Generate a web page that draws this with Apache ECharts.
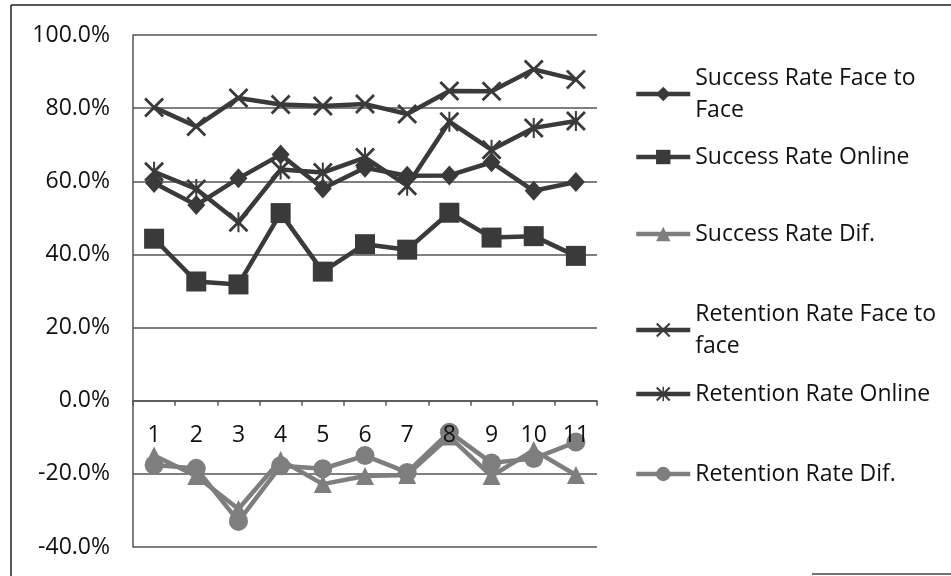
<!DOCTYPE html>
<html>
<head>
<meta charset="utf-8">
<script src="https://cdn.jsdelivr.net/npm/echarts@6/dist/echarts.min.js"></script>
<style>
html,body{margin:0;padding:0;background:#fff;}
#chart{width:951px;height:576px;}
</style>
</head>
<body>
<div id="chart"></div>
<script>
var categories = ['1','2','3','4','5','6','7','8','9','10','11'];
var yTicks = { min: -40, max: 100, interval: 20 };

var successF2F    = [59.5, 53.5, 60.8, 67.3, 58.0, 63.7, 61.5, 61.6, 65.2, 57.4, 59.8];
var successOnline = [44.3, 32.6, 31.8, 51.3, 35.3, 42.8, 41.3, 51.4, 44.6, 45.0, 39.6];
var successDif    = [-15.0, -20.6, -29.6, -16.2, -22.8, -20.6, -20.3, -9.8, -20.6, -13.5, -20.3];
var retentionF2F    = [80.2, 75.0, 82.8, 81.0, 80.6, 81.1, 78.4, 84.7, 84.6, 90.6, 87.8];
var retentionOnline = [62.6, 57.9, 48.8, 63.2, 62.4, 66.5, 58.8, 76.3, 68.6, 74.6, 76.5];
var retentionDif    = [-17.6, -18.5, -33.0, -17.8, -18.6, -15.0, -19.6, -8.6, -17.0, -15.8, -11.3];

var seriesNames = ['Success Rate Face to Face', 'Success Rate Online', 'Success Rate Dif.',
                   'Retention Rate Face to face', 'Retention Rate Online', 'Retention Rate Dif.'];

var X_PATH = 'path://M0,2 L2,0 L10,8 L18,0 L20,2 L12,10 L20,18 L18,20 L10,12 L2,20 L0,18 L8,10 Z';
var STAR_PATH = 'path://M0,2 L2,0 L10,8 L18,0 L20,2 L12,10 L20,18 L18,20 L10,12 L2,20 L0,18 L8,10 Z M9,0 L11,0 L11,20 L9,20 Z';

var FONT = '"Open Sans", "Noto Sans", sans-serif';
var DARK = '#3a3a3a';
var GREY = '#7e7e7e';
var seriesColors = [DARK, DARK, GREY, DARK, DARK, GREY];

function mkSeries(name, data, symbol, size, color) {
  return {
    name: name, type: 'line', data: data,
    symbol: symbol, symbolSize: size,
    lineStyle: { color: color, width: 4.5 },
    itemStyle: { color: color },
    emphasis: { disabled: true },
    animation: false
  };
}

var legendTops = [41, 136, 213, 277, 373, 453];
var twoLine = [true, false, false, true, false, false];
var legends = seriesNames.map(function (n, i) {
  return {
    data: [n], orient: 'vertical', left: 629, top: legendTops[i],
    itemWidth: 54, itemHeight: 18, itemGap: 0,
    selectedMode: false,
    lineStyle: { width: 4.5, color: seriesColors[i] },
    itemStyle: { color: seriesColors[i] },
    textStyle: {
      fontFamily: FONT, fontSize: 23, color: '#111',
      lineHeight: 32, width: 255, overflow: 'break',
      padding: twoLine[i] ? [32, 0, 0, 0] : 0
    }
  };
});

var chart = echarts.init(document.getElementById('chart'));
chart.setOption({
  backgroundColor: '#ffffff',
  animation: false,
  grid: { left: 133, right: 354, top: 35, bottom: 29, containLabel: false, outerBoundsMode: 'none' },
  legend: legends,
  xAxis: {
    type: 'category', data: categories, boundaryGap: true,
    offset: -146.3, z: 5,
    axisLine: { onZero: false, lineStyle: { color: '#555', width: 1.5 } },
    axisTick: { show: true, length: 5, lineStyle: { color: '#555', width: 1.5 } },
    axisLabel: { fontFamily: FONT, fontSize: 23, color: '#111', margin: 21, lineHeight: 28 },
    splitLine: { show: false }
  },
  yAxis: {
    type: 'value', min: yTicks.min, max: yTicks.max, interval: yTicks.interval,
    axisLine: { show: true, lineStyle: { color: '#555', width: 1.5 } },
    axisTick: { show: false },
    axisLabel: { fontFamily: FONT, fontSize: 23, color: '#111', margin: 23,
      formatter: function (v) { return v.toFixed(1) + '%'; } },
    splitLine: { show: true, lineStyle: { color: '#555', width: 1.5 } }
  },
  series: [
    mkSeries(seriesNames[0], successF2F, 'diamond', [18, 20], DARK),
    mkSeries(seriesNames[1], successOnline, 'rect', 20, DARK),
    mkSeries(seriesNames[2], successDif, 'triangle', 18, GREY),
    mkSeries(seriesNames[3], retentionF2F, X_PATH, 20, DARK),
    mkSeries(seriesNames[4], retentionOnline, STAR_PATH, 20, DARK),
    mkSeries(seriesNames[5], retentionDif, 'circle', 19, GREY)
  ],
  graphic: [
    { type: 'line', shape: { x1: 11, y1: 5, x2: 11, y2: 576 }, style: { stroke: '#222', lineWidth: 1.5 }, silent: true },
    { type: 'line', shape: { x1: 11, y1: 5, x2: 951, y2: 5 }, style: { stroke: '#222', lineWidth: 1.5 }, silent: true },
    { type: 'line', shape: { x1: 812, y1: 574, x2: 951, y2: 574 }, style: { stroke: '#444', lineWidth: 1.5 }, silent: true }
  ]
});
</script>
</body>
</html>
